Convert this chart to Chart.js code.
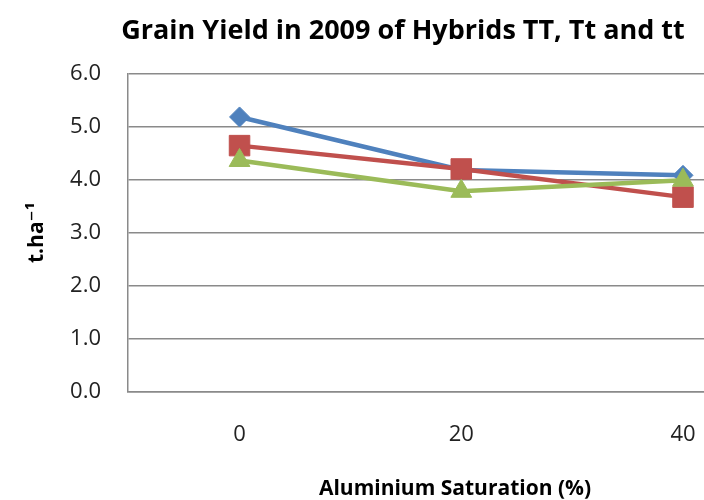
<!DOCTYPE html>
<html>
<head>
<meta charset="utf-8">
<script src="https://cdn.jsdelivr.net/npm/chart.js@4/dist/chart.umd.min.js"></script>
<style>
  html, body { margin: 0; padding: 0; overflow: hidden; background: #fff; }
  #wrap { width: 814px; height: 500px; }
</style>
</head>
<body>
<div id="wrap"><canvas id="c" width="814" height="500"></canvas></div>
<script>
// Aluminium saturation levels (%) and grain yield (t/ha) per hybrid
const saturation = [0, 20, 40];
const yieldTT = [5.18, 4.18, 4.08];
const yieldTt = [4.64, 4.20, 3.67];
const yieldtt = [4.36, 3.78, 3.99];
const yTicks = [0, 1, 2, 3, 4, 5, 6];

const FONT = "'Open Sans', 'DejaVu Sans', sans-serif";
const GRID = '#8a8a8a';

function pts(vals) {
  return saturation.map((x, i) => ({ x: x, y: vals[i] }));
}

function series(label, vals, color, style, radius, order) {
  return {
    label: label,
    data: pts(vals),
    borderColor: color,
    backgroundColor: color,
    borderWidth: 4.5,
    pointStyle: style,
    pointRadius: radius,
    pointBorderWidth: 1,
    pointBackgroundColor: color,
    pointBorderColor: color,
    tension: 0,
    order: order
  };
}

new Chart(document.getElementById('c'), {
  type: 'line',
  data: {
    datasets: [
      series('TT', yieldTT, '#4F81BD', 'rectRot', 10, 2),
      series('Tt', yieldTt, '#C0504D', 'rect', 14.5, 1),
      series('tt', yieldtt, '#9BBB59', 'triangle', 12, 0)
    ]
  },
  options: {
    responsive: false,
    animation: false,
    layout: { padding: { top: 6, left: 24, right: 32, bottom: 0 } },
    plugins: {
      legend: { display: false },
      tooltip: { enabled: false },
      title: {
        display: true,
        text: 'Grain Yield in 2009 of Hybrids TT, Tt and tt',
        color: '#000',
        font: { family: FONT, size: 27, weight: 'bold' },
        padding: { top: 9, bottom: 26 }
      }
    },
    scales: {
      x: {
        type: 'linear',
        min: -10.06,
        max: 48.93,
        afterBuildTicks(scale) {
          scale.ticks = saturation.map(v => ({ value: v }));
        },
        afterFit(scale) { scale.height = 108; },
        grid: { display: false, drawTicks: false },
        border: { display: true, color: GRID, width: 1.5 },
        ticks: {
          color: '#222',
          padding: 30,
          font: { family: FONT, size: 22 },
          callback: v => String(v)
        },
        title: {
          display: true,
          text: 'Aluminium Saturation (%)',
          color: '#000',
          font: { family: FONT, size: 21, weight: 'bold', lineHeight: 1.0 },
          padding: { top: 26, bottom: 0 }
        }
      },
      y: {
        type: 'linear',
        min: 0,
        max: 6,
        afterBuildTicks(scale) {
          scale.ticks = yTicks.map(v => ({ value: v }));
        },
        afterFit(scale) { scale.width = 104; },
        grid: { color: GRID, lineWidth: 1.5, drawTicks: false },
        border: { display: true, color: GRID, width: 1.5 },
        ticks: {
          color: '#222',
          padding: 27,
          font: { family: FONT, size: 22 },
          callback: v => Number(v).toFixed(1)
        },
        title: {
          display: true,
          text: 't.ha\u207B\u00B9',
          color: '#000',
          font: { family: FONT, size: 21, weight: 'bold' },
          padding: { top: 0, bottom: 0 }
        }
      }
    }
  }
});
</script>
</body>
</html>
